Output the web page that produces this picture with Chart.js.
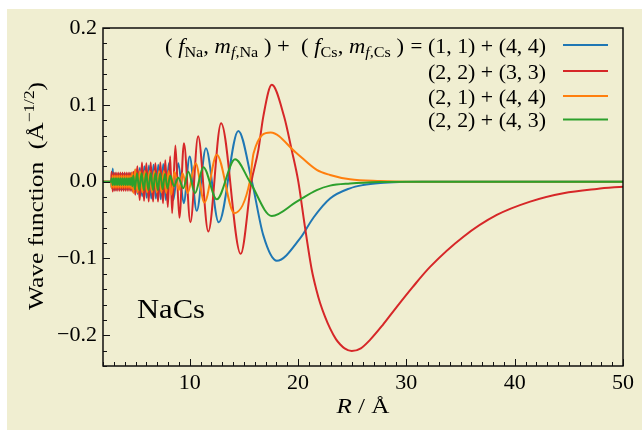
<!DOCTYPE html>
<html>
<head>
<meta charset="utf-8">
<script src="https://cdn.jsdelivr.net/npm/chart.js@4.4.1/dist/chart.umd.min.js"></script>
<style>
  html, body { margin: 0; padding: 0; background: #fff; }
  canvas { display: block; }
</style>
</head>
<body>
<canvas id="waveChart" width="642" height="431"></canvas>
<script>
// R (Å) and wave function (Å^-1/2) for each hyperfine channel
const r11_44 = [2.0, 2.75,
  2.8, 2.9, 3.0, 3.1, 3.2, 3.3, 3.4, 3.5, 3.6, 3.7, 3.8, 3.9, 4.0, 4.1, 4.2, 4.3, 4.4, 4.5, 4.6, 4.7, 4.8,
  4.98, 5.19, 5.40, 5.61, 5.82, 6.03, 6.24, 6.45, 6.66, 6.88, 7.10, 7.33, 7.56, 7.80, 8.08,
  8.49, 8.95, 9.45, 10.0, 10.65, 11.5, 12.68, 14.49, 15.75, 16.8, 18.04, 20.19, 21.42, 22.96,
  24.8, 26.0, 27.6, 29.5, 31.5, 50];
const psi11_44 = [0, 0,
  -0.008, 0.017, -0.011, 0.011, -0.011, 0.010, -0.010, 0.010, -0.010, 0.010, -0.010, 0.010, -0.010, 0.010, -0.010, 0.010, -0.010, 0.011, -0.011, 0.011, -0.012,
  0.015, -0.016, 0.018, -0.019, 0.020, -0.021, 0.021, -0.022, 0.022, -0.022, 0.022, -0.023, 0.023, -0.024, 0.024,
  -0.024, 0.024, -0.028, 0.0326, -0.038, 0.0435, -0.053, 0.066, 0, -0.07, -0.103, -0.074, -0.047, -0.022,
  -0.0087, -0.0045, -0.0018, -0.0005, 0, 0];

const r22_33 = [2.0, 2.75,
  2.8, 2.9, 3.0, 3.1, 3.2, 3.3, 3.4, 3.5, 3.6, 3.7, 3.8, 3.9, 4.0, 4.1, 4.2, 4.3, 4.4, 4.5, 4.6, 4.7, 4.8,
  4.98, 5.17, 5.39, 5.60, 5.79, 6.0, 6.22, 6.40, 6.62, 6.83, 7.08, 7.29, 7.54, 7.75, 7.98, 8.2,
  8.38, 8.68, 9.05, 9.47, 10.07, 10.78, 11.72, 12.9, 14.71, 15.7, 16.34, 16.8, 17.58, 18.71, 19.42, 20.03,
  20.6, 21.26, 21.7, 22.04, 22.5, 22.96, 23.5, 23.9, 24.3, 24.96, 25.8, 26.65, 27.8, 29.12, 30.6, 32.19,
  35.27, 38.35, 41.43, 44.5, 47.58, 50];
const psi22_33 = [0, 0,
  0.013, -0.013, 0.012, -0.012, 0.012, -0.012, 0.012, -0.012, 0.012, -0.012, 0.012, -0.012, 0.012, -0.012, 0.012, -0.012, 0.012, -0.012, 0.012, -0.013, 0.013,
  -0.017, 0.020, -0.024, 0.025, -0.025, 0.024, -0.026, 0.025, -0.026, 0.024, -0.026, 0.025, -0.028, 0.028, -0.033, 0.033,
  -0.041, 0.047, -0.047, 0.050, -0.053, 0.059, -0.065, 0.076, -0.094, 0, 0.041, 0.085, 0.126, 0.085, 0.041, 0,
  -0.055, -0.114, -0.141, -0.158, -0.176, -0.191, -0.205, -0.212, -0.217, -0.2205, -0.217, -0.206, -0.187, -0.163, -0.137, -0.111,
  -0.0717, -0.0434, -0.026, -0.0151, -0.0095, -0.0065];

const r21_44 = [2.0, 2.75,
  2.8, 2.9, 3.0, 3.1, 3.2, 3.3, 3.4, 3.5, 3.6, 3.7, 3.8, 3.9, 4.0, 4.1, 4.2, 4.3, 4.4, 4.5, 4.6, 4.7, 4.8,
  4.97, 5.19, 5.41, 5.63, 5.85, 6.07, 6.29, 6.51, 6.73, 6.95, 7.17, 7.39, 7.61, 7.83, 8.05,
  8.3, 8.6, 9.0, 9.35, 9.81, 10.55, 11.36, 12.5, 14.12, 15.55, 15.9, 17.48, 19.8, 21.73, 22.96,
  24.8, 27.6, 30, 50];
const psi21_44 = [0, 0,
  -0.008, 0.008, -0.008, 0.008, -0.008, 0.008, -0.008, 0.008, -0.008, 0.008, -0.008, 0.008, -0.008, 0.008, -0.008, 0.008, -0.008, 0.008, -0.009, 0.012, -0.015,
  0.016, -0.014, 0.014, -0.014, 0.014, -0.014, 0.014, -0.014, 0.014, -0.014, 0.014, -0.014, 0.014, -0.015, 0.014,
  -0.017, 0.013, -0.011, 0.011, -0.015, 0.024, -0.027, 0.035, -0.041, 0, 0.037, 0.064, 0.038, 0.0153, 0.0087,
  0.003, 0.0008, 0, 0];

const r22_43 = [2.0, 2.75,
  2.8, 2.9, 3.0, 3.1, 3.2, 3.3, 3.4, 3.5, 3.6, 3.7, 3.8, 3.9, 4.0, 4.1, 4.2, 4.3, 4.4, 4.5, 4.6, 4.7, 4.8,
  4.94, 5.14, 5.35, 5.56, 5.77, 5.98, 6.19, 6.40, 6.62, 6.84, 7.06, 7.28, 7.50, 7.72, 7.95, 8.2,
  8.55, 8.95, 9.41, 9.88, 10.49, 11.26, 12.5, 14.19, 15.55, 17.58, 19.88, 21.73, 22.96,
  24.8, 27.6, 30, 50];
const psi22_43 = [0, 0,
  0.0045, -0.0045, 0.0045, -0.0045, 0.0045, -0.0045, 0.0045, -0.0045, 0.0045, -0.0045, 0.0045, -0.0045, 0.0045, -0.0045, 0.0045, -0.0045, 0.0045, -0.0045, 0.005, -0.006, 0.008,
  -0.010, 0.011, -0.011, 0.011, -0.011, 0.011, -0.011, 0.011, -0.011, 0.011, -0.011, 0.011, -0.010, 0.010, -0.009, 0.008,
  -0.006, 0.005, -0.0086, 0.013, -0.015, 0.0188, -0.023, 0.029, 0, -0.0447, -0.026, -0.011, -0.0052,
  -0.0024, -0.0004, 0, 0];

const channelLabels = ['(1, 1) + (4, 4)', '(2, 2) + (3, 3)', '(2, 1) + (4, 4)', '(2, 2) + (4, 3)'];
const channelColors = ['#1f77b4', '#d62728', '#ff7f0e', '#2ca02c'];

const xTickValues = [10, 20, 30, 40, 50];
const yTickValues = [-0.2, -0.1, 0, 0.1, 0.2];
const yTickLabels = ['\u22120.2', '\u22120.1', '0.0', '0.1', '0.2'];

const SERIF = '"Liberation Serif", "DejaVu Serif", serif';
const PANEL_BG = '#f0eed1';

const toPoints = (rs, ps) => rs.map((r, i) => ({ x: r, y: ps[i] }));

const series = [
  toPoints(r11_44, psi11_44),
  toPoints(r22_33, psi22_33),
  toPoints(r21_44, psi21_44),
  toPoints(r22_43, psi22_43),
];

// text made of runs with their own font and vertical offset, squeezed to a given width
function drawRuns(ctx, runs, x, y, width, align) {
  let total = 0;
  runs.forEach(r => { ctx.font = r[1]; total += ctx.measureText(r[0]).width; });
  const sx = width ? width / total : 1;
  ctx.save();
  ctx.translate(x, y);
  ctx.scale(sx, 1);
  ctx.textAlign = 'left';
  ctx.textBaseline = 'alphabetic';
  let cx = align === 'right' ? -total : align === 'center' ? -total / 2 : 0;
  runs.forEach(r => {
    ctx.font = r[1];
    ctx.fillText(r[0], cx, r[2] || 0);
    cx += ctx.measureText(r[0]).width;
  });
  ctx.restore();
}

const up = s => s + 'px ' + SERIF;
const it = s => 'italic ' + s + 'px ' + SERIF;

const decorations = {
  id: 'decorations',
  beforeDraw(chart) {
    const ctx = chart.ctx;
    ctx.save();
    ctx.fillStyle = PANEL_BG;
    ctx.fillRect(7, 9, chart.width - 7, chart.height - 10);
    ctx.restore();
  },
  afterDraw(chart) {
    const ctx = chart.ctx;
    const area = chart.chartArea;
    const xs = chart.scales.x;
    const ys = chart.scales.y;
    ctx.save();

    // frame
    ctx.strokeStyle = '#000';
    ctx.lineWidth = 1.4;
    ctx.strokeRect(area.left, area.top, area.right - area.left, area.bottom - area.top);

    // inward ticks, minor every 1 Å and 0.02
    ctx.lineWidth = 1;
    ctx.strokeStyle = '#111';
    ctx.beginPath();
    for (let v = 2; v <= 50; v++) {
      const px = Math.round(xs.getPixelForValue(v)) + 0.5;
      const len = v % 10 === 0 ? 7 : 4;
      ctx.moveTo(px, area.bottom);
      ctx.lineTo(px, area.bottom - len);
    }
    for (let k = -12; k <= 10; k++) {
      const py = Math.round(ys.getPixelForValue(k * 0.02)) + 0.5;
      const len = k % 5 === 0 ? 7 : 4;
      ctx.moveTo(area.left, py);
      ctx.lineTo(area.left + len, py);
    }
    ctx.stroke();

    ctx.fillStyle = '#000';

    // legend
    const rowY = [45, 71, 96, 119.5];
    rowY.forEach((y, i) => {
      ctx.strokeStyle = channelColors[i];
      ctx.lineWidth = 2;
      ctx.beginPath();
      ctx.moveTo(563, y);
      ctx.lineTo(608, y);
      ctx.stroke();
      drawRuns(ctx, [[channelLabels[i], up(21)]], 546, y + 7.5, 118, 'right');
    });
    drawRuns(ctx, [
      ['( ', up(21)], ['f', it(21)], ['Na', up(15), 4], [', ', up(21)],
      ['m', it(21)], ['f', it(15), 4], [',', up(15), 4], ['Na', up(15), 4],
      [' ) +  ( ', up(21)], ['f', it(21)], ['Cs', up(15), 4], [', ', up(21)],
      ['m', it(21)], ['f', it(15), 4], [',', up(15), 4], ['Cs', up(15), 4], [' )', up(21)],
    ], 165, rowY[0] + 7.5, 239, 'left');
    drawRuns(ctx, [['=', up(21)]], 416.5, rowY[0] + 7.5, 0, 'center');

    // molecule label
    drawRuns(ctx, [['NaCs', up(28)]], 137, 318, 68, 'left');

    // axis titles
    drawRuns(ctx, [['R', it(22)], [' / \u00c5', up(22)]], 363, 413, 53, 'center');
    ctx.save();
    ctx.translate(43, 196);
    ctx.rotate(-Math.PI / 2);
    drawRuns(ctx, [['Wave function  (\u00c5', up(22)], ['\u22121/2', up(15), -9], [')', up(22)]], 0, 0, 228, 'center');
    ctx.restore();

    ctx.restore();
  }
};

new Chart(document.getElementById('waveChart'), {
  type: 'line',
  data: {
    datasets: series.map((pts, i) => ({
      label: channelLabels[i],
      data: pts,
      borderColor: channelColors[i],
      borderWidth: 2,
      pointRadius: 0,
      fill: false,
      cubicInterpolationMode: 'monotone',
      order: 4 - i,
    })),
  },
  options: {
    responsive: false,
    animation: false,
    devicePixelRatio: 1,
    layout: { padding: { left: 0, top: 28, right: 19, bottom: 0 } },
    plugins: { legend: { display: false }, tooltip: { enabled: false } },
    scales: {
      x: {
        type: 'linear',
        min: 2,
        max: 50,
        grid: { display: false, drawTicks: false },
        border: { display: false },
        afterBuildTicks: scale => { scale.ticks = xTickValues.map(v => ({ value: v })); },
        afterFit: scale => { scale.height = 65; },
        ticks: {
          color: '#000',
          padding: 4,
          maxRotation: 0,
          font: { family: SERIF, size: 22 },
          callback: v => String(v),
        },
      },
      y: {
        type: 'linear',
        min: -0.24,
        max: 0.2,
        grid: { display: false, drawTicks: false },
        border: { display: false },
        afterBuildTicks: scale => { scale.ticks = yTickValues.map(v => ({ value: v })); },
        afterFit: scale => { scale.width = 103; },
        ticks: {
          color: '#000',
          padding: 6,
          font: { family: SERIF, size: 22 },
          callback: v => yTickLabels[yTickValues.findIndex(t => Math.abs(t - v) < 1e-9)],
        },
      },
    },
  },
  plugins: [decorations],
});
</script>
</body>
</html>
